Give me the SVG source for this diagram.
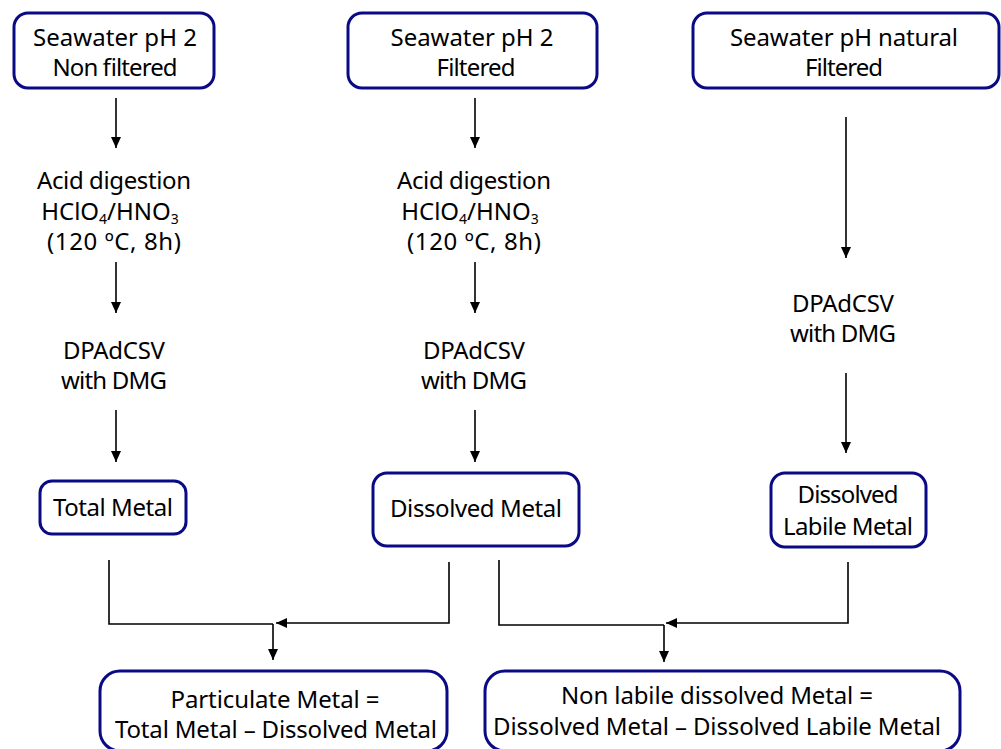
<svg xmlns="http://www.w3.org/2000/svg" width="1001" height="749" viewBox="0 0 1001 749">
<style>
.box{fill:#fff;stroke:#0a0a85;stroke-width:3}
text{font-family:"Noto Sans","Liberation Sans",sans-serif;font-size:24px;fill:#000;text-anchor:middle}
.ln{fill:none;stroke:#000;stroke-width:1.6}
.sub{font-size:14px}
</style>
<defs>
<marker id="ah" markerUnits="userSpaceOnUse" markerWidth="12" markerHeight="12" viewBox="0 0 12 12" refX="11" refY="6" orient="auto">
<path d="M0,1 L11,6 L0,11 Z" fill="#000"/>
</marker>
</defs>
<rect width="1001" height="749" fill="#fff"/>
<g id="n1"><rect class="box" x="14" y="13" width="200" height="75" rx="14"/>
<text x="115" y="46" textLength="164" lengthAdjust="spacing">Seawater pH 2</text>
<text x="115" y="76" textLength="125" lengthAdjust="spacing">Non filtered</text></g>
<g id="n2"><rect class="box" x="348" y="13" width="249" height="75" rx="14"/>
<text x="472" y="46" textLength="163" lengthAdjust="spacing">Seawater pH 2</text>
<text x="476" y="76" textLength="79" lengthAdjust="spacing">Filtered</text></g>
<g id="n3"><rect class="box" x="693" y="13" width="306" height="75" rx="14"/>
<text x="844" y="46" textLength="228" lengthAdjust="spacing">Seawater pH natural</text>
<text x="844" y="76" textLength="78" lengthAdjust="spacing">Filtered</text></g>
<g id="a1">
<text x="114" y="189" textLength="154" lengthAdjust="spacing">Acid digestion</text>
<text x="110" y="220">HClO<tspan class="sub" dy="4">4</tspan><tspan dy="-4">/HNO</tspan><tspan class="sub" dy="4">3</tspan></text>
<text x="114" y="250" textLength="134" lengthAdjust="spacing">(120 ºC, 8h)</text></g>
<g id="a2">
<text x="474" y="189" textLength="154" lengthAdjust="spacing">Acid digestion</text>
<text x="470" y="220">HClO<tspan class="sub" dy="4">4</tspan><tspan dy="-4">/HNO</tspan><tspan class="sub" dy="4">3</tspan></text>
<text x="474" y="250" textLength="134" lengthAdjust="spacing">(120 ºC, 8h)</text></g>
<g id="d1"><text x="114" y="359" textLength="102" lengthAdjust="spacing">DPAdCSV</text>
<text x="114" y="389" textLength="106" lengthAdjust="spacing">with DMG</text></g>
<g id="d2"><text x="474" y="359" textLength="102" lengthAdjust="spacing">DPAdCSV</text>
<text x="474" y="389" textLength="106" lengthAdjust="spacing">with DMG</text></g>
<g id="d3"><text x="843" y="312" textLength="102" lengthAdjust="spacing">DPAdCSV</text>
<text x="843" y="342" textLength="106" lengthAdjust="spacing">with DMG</text></g>
<g id="t1"><rect class="box" x="40" y="481" width="146" height="53" rx="12"/>
<text x="113" y="516" textLength="120" lengthAdjust="spacing">Total Metal</text></g>
<g id="t2"><rect class="box" x="373" y="473" width="206" height="73" rx="14"/>
<text x="476" y="517" textLength="172" lengthAdjust="spacing">Dissolved Metal</text></g>
<g id="t3"><rect class="box" x="771" y="473" width="155" height="74" rx="14"/>
<text x="848" y="503" textLength="101" lengthAdjust="spacing">Dissolved</text>
<text x="848" y="535" textLength="130" lengthAdjust="spacing">Labile Metal</text></g>
<g id="r1"><rect class="box" x="100" y="671" width="347" height="80" rx="20"/>
<text x="275" y="708" textLength="209" lengthAdjust="spacing">Particulate Metal =</text>
<text x="276" y="738" textLength="322" lengthAdjust="spacing">Total Metal – Dissolved Metal</text></g>
<g id="r2"><rect class="box" x="485" y="671" width="475" height="80" rx="20"/>
<text x="717" y="704" textLength="312" lengthAdjust="spacing">Non labile dissolved Metal =</text>
<text x="717" y="735" textLength="448" lengthAdjust="spacing">Dissolved Metal – Dissolved Labile Metal</text></g>
<g id="connectors">
<line class="ln" x1="116" y1="98" x2="116" y2="148" marker-end="url(#ah)"/>
<line class="ln" x1="116" y1="262" x2="116" y2="313" marker-end="url(#ah)"/>
<line class="ln" x1="116" y1="410" x2="116" y2="462" marker-end="url(#ah)"/>
<line class="ln" x1="475" y1="98" x2="475" y2="148" marker-end="url(#ah)"/>
<line class="ln" x1="475" y1="262" x2="475" y2="313" marker-end="url(#ah)"/>
<line class="ln" x1="475" y1="410" x2="475" y2="462" marker-end="url(#ah)"/>
<line class="ln" x1="846" y1="117" x2="846" y2="258" marker-end="url(#ah)"/>
<line class="ln" x1="846" y1="373" x2="846" y2="453" marker-end="url(#ah)"/>
<path class="ln" d="M109,560 V624 H273"/>
<line class="ln" x1="273" y1="624" x2="273" y2="660" marker-end="url(#ah)"/>
<path class="ln" d="M449,562 V623 H276" marker-end="url(#ah)"/>
<path class="ln" d="M499,560 V625 H664"/>
<line class="ln" x1="664" y1="625" x2="664" y2="662" marker-end="url(#ah)"/>
<path class="ln" d="M848,562 V623 H666" marker-end="url(#ah)"/>
</g>
</svg>
